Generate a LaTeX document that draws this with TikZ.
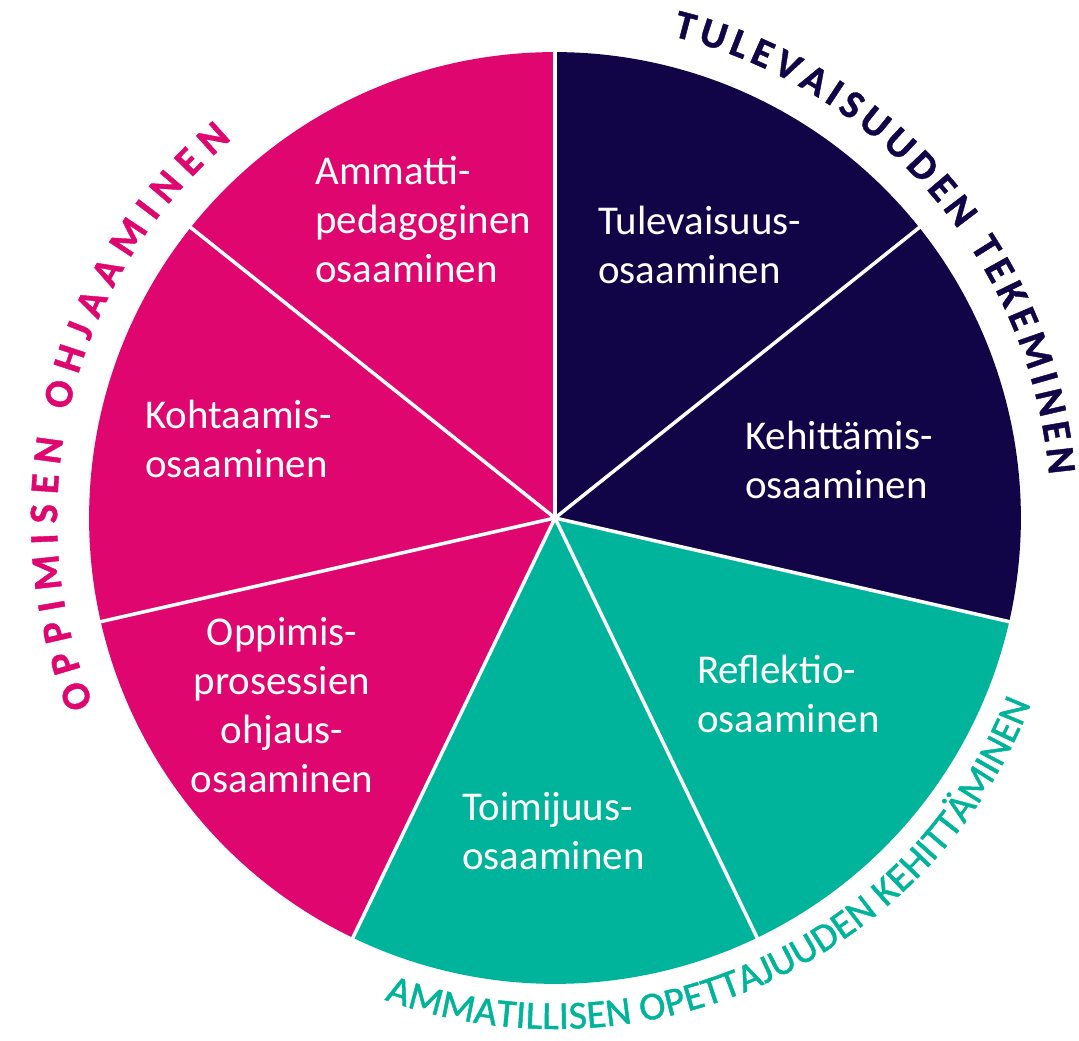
\documentclass[tikz,border=0pt]{standalone}
\usepackage{fontspec}
\setmainfont{Carlito}
\usetikzlibrary{decorations.text}
\definecolor{mymagenta}{RGB}{224,6,111}
\definecolor{mynavy}{RGB}{17,5,72}
\definecolor{myteal}{RGB}{0,180,155}
\newcommand{\segfont}{\fontsize{23.3}{27.9}\selectfont}
\newcommand{\arcfont}{\bfseries\addfontfeature{FakeBold=1}\fontsize{23}{27}\selectfont}
\newcommand{\bottomfont}{\addfontfeature{FakeBold=1.2}\fontsize{22.5}{26}\selectfont}

\begin{document}
\begin{tikzpicture}[x=0.02cm, y=0.02cm,
    seglabel/.style={text=white, font=\segfont, align=left, anchor=west, inner sep=0pt},
    divider/.style={white, line width=0.07cm}]
    \useasboundingbox (-555,518) rectangle (524,-523);
    \coordinate (centre) at (0,0);

    % Sectors of the wheel
    \fill[mynavy] (centre) -- (-12.857:9.32cm)
        arc[start angle=-12.857, end angle=90, radius=9.32cm] -- cycle;
    \fill[myteal] (centre) -- (-115.714:9.32cm)
        arc[start angle=-115.714, end angle=-12.857, radius=9.32cm] -- cycle;
    \fill[mymagenta] (centre) -- (90:9.32cm)
        arc[start angle=90, end angle=244.286, radius=9.32cm] -- cycle;

    % White dividers
    \foreach \a in {90, 38.571, -12.857, -64.286, -115.714, -167.143, 141.429}
        \draw[divider] (centre) -- (\a:9.4cm);

    % Curved headings
    \begin{scope}
        \arcfont
        \path[decorate, decoration={text along path, text color=mymagenta,
            text align=fit to path, text={OPPIMISEN OHJAAMINEN}}]
            (202:9.96cm) arc[start angle=202, end angle=130.5, radius=9.96cm];
        \path[decorate, decoration={text along path, text color=mynavy,
            text align=fit to path, text={TULEVAISUUDEN TEKEMINEN}}]
            (76.3:9.92cm) arc[start angle=76.3, end angle=5, radius=9.92cm];
    \end{scope}
    \begin{scope}
        \bottomfont
        \path[decorate, decoration={text along path, text color=myteal,
            text align=fit to path, text={AMMATILLISEN OPETTAJUUDEN KEHITTÄMINEN}}]
            (250.5:10.22cm) arc[start angle=250.5, end angle=338.6, radius=10.22cm];
    \end{scope}

    % Segment labels
    \node[seglabel] (ammatti) at (-240,298.5) {Ammatti-\\pedagoginen\\osaaminen};
    \node[seglabel] (tulevaisuus) at (43,273) {Tulevaisuus-\\osaaminen};
    \node[seglabel] (kohtaamis) at (-410,79) {Kohtaamis-\\osaaminen};
    \node[seglabel] (kehittamis) at (190,58) {Kehittämis-\\osaaminen};
    \node[seglabel, align=center, anchor=center] (oppimis) at (-273,-187)
        {Oppimis-\\prosessien\\ohjaus-\\osaaminen};
    \node[seglabel] (reflektio) at (142,-176) {Reflektio-\\osaaminen};
    \node[seglabel] (toimijuus) at (-93,-313) {Toimijuus-\\osaaminen};
\end{tikzpicture}
\end{document}
